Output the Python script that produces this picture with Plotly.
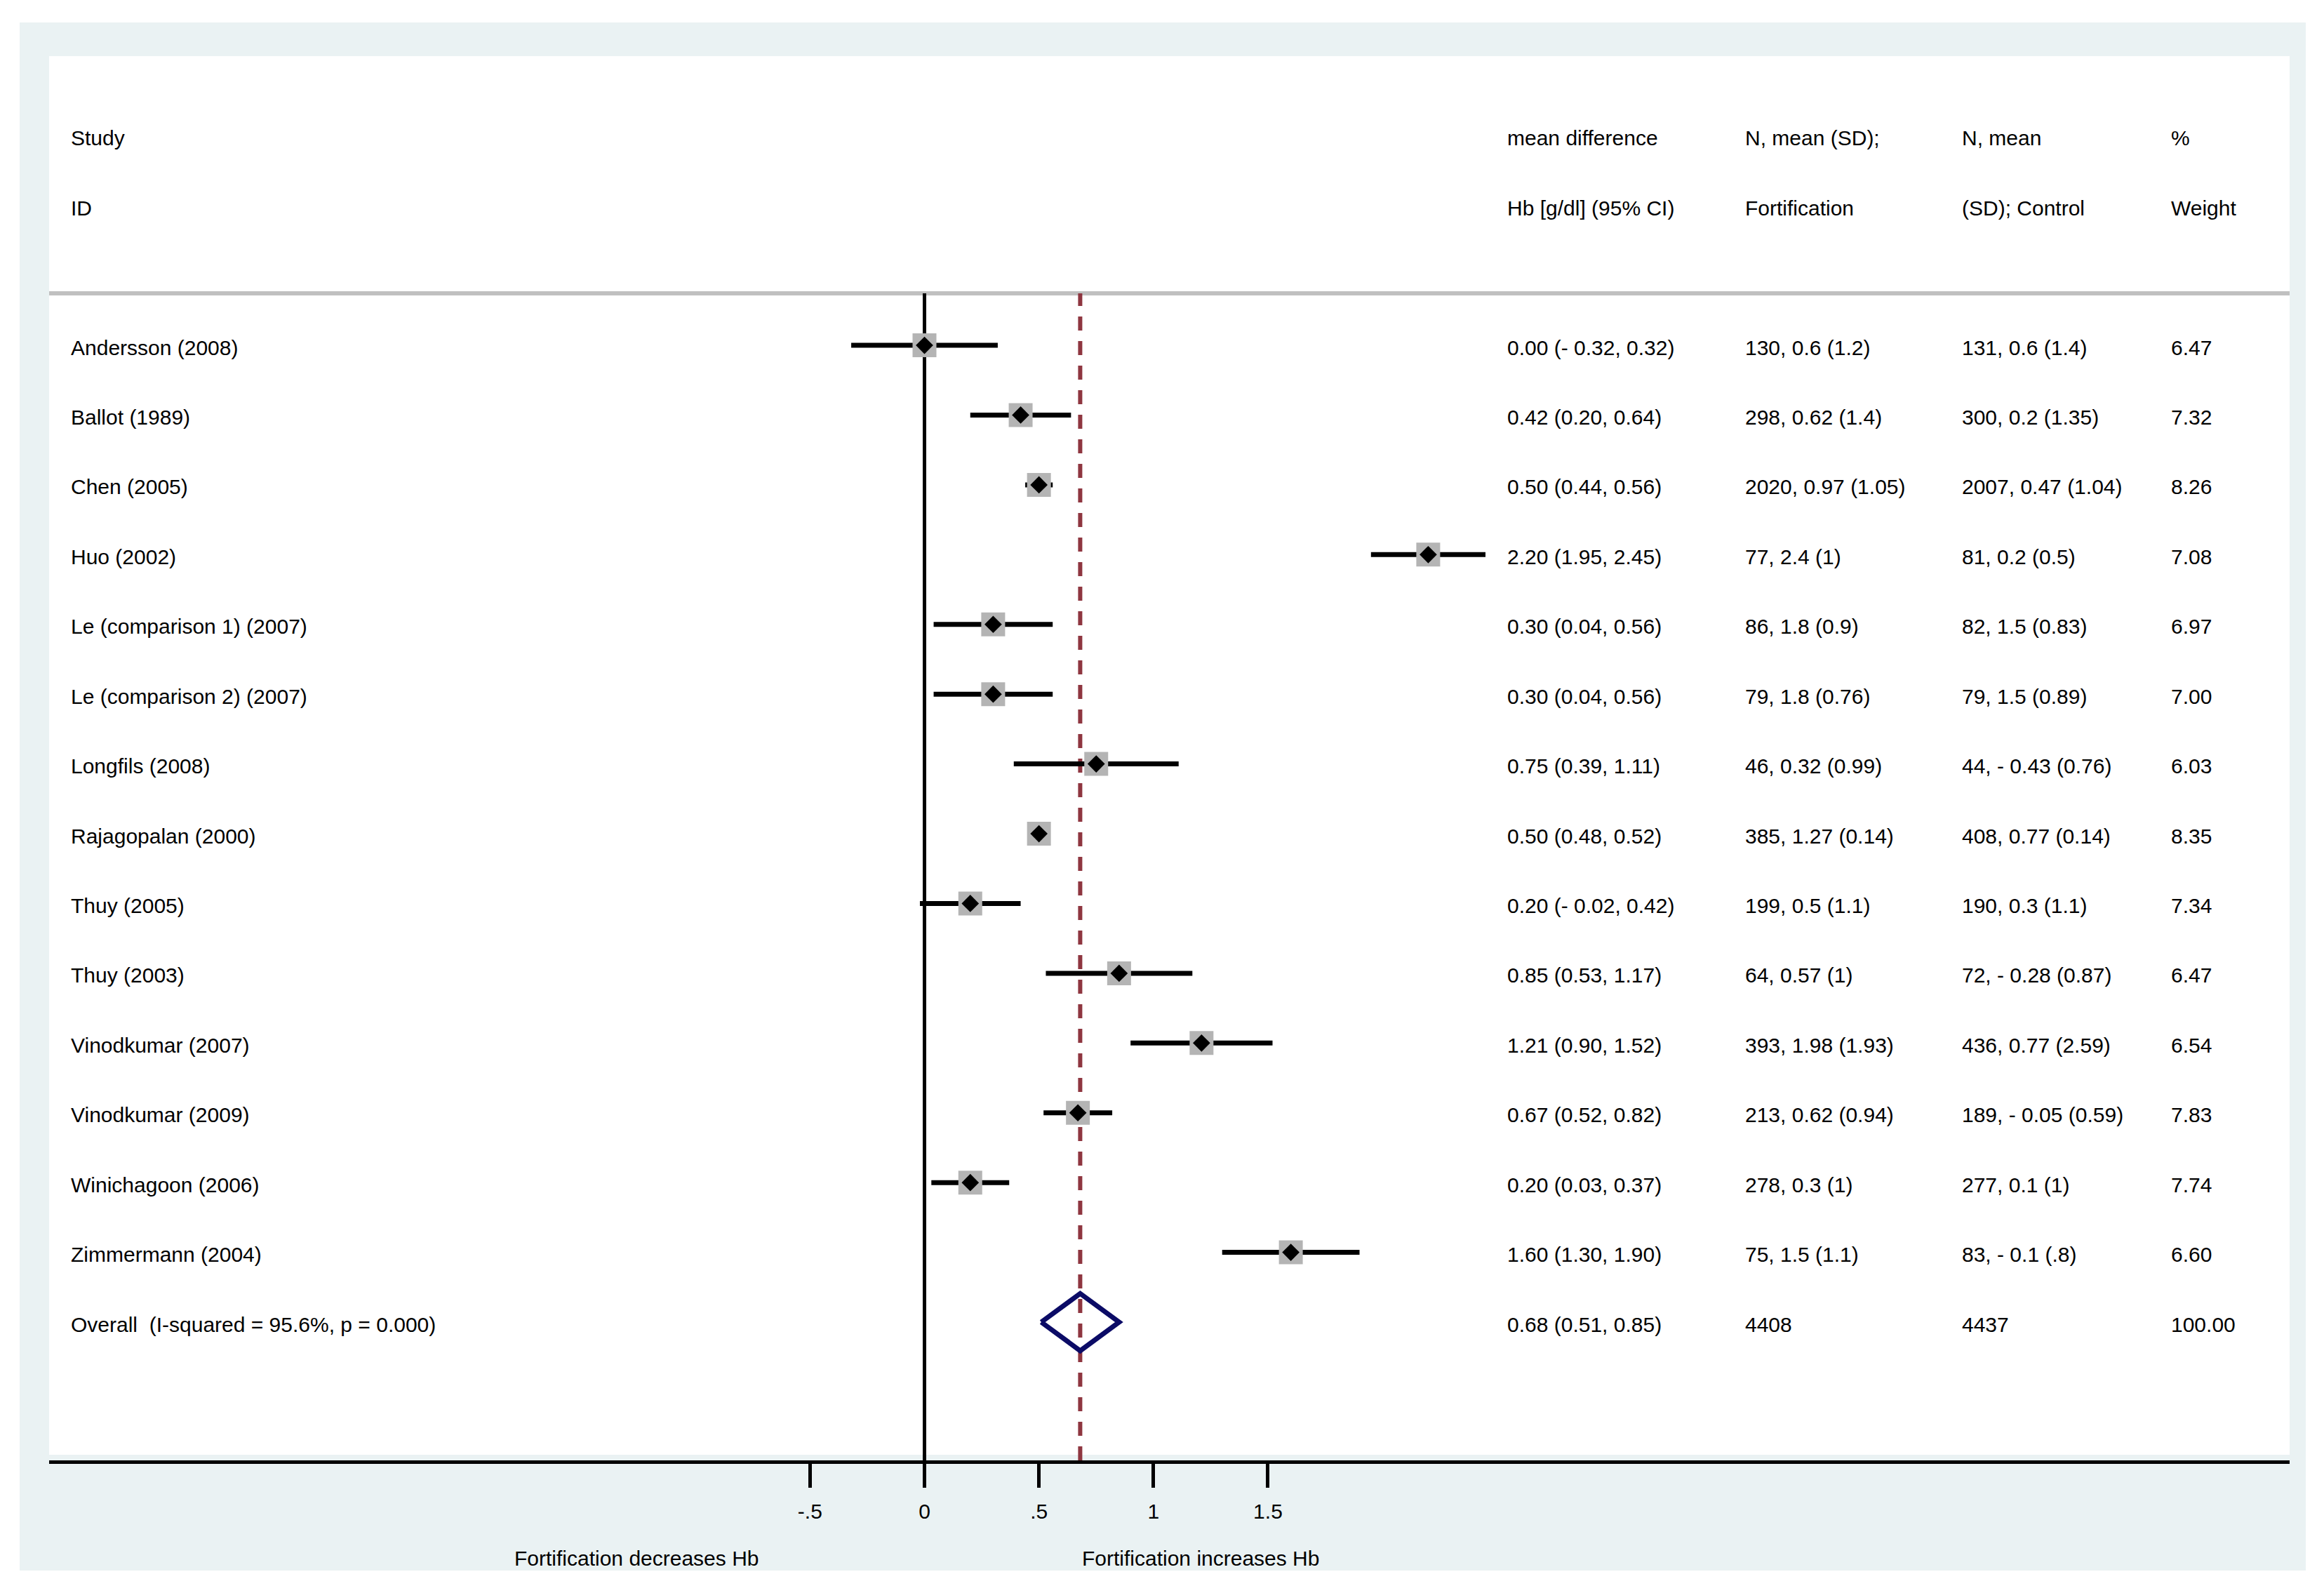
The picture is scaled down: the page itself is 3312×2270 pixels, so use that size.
import plotly.graph_objects as go

# study rows, top to bottom
studies = [
    "Andersson (2008)", "Ballot (1989)", "Chen (2005)", "Huo (2002)",
    "Le (comparison 1) (2007)", "Le (comparison 2) (2007)", "Longfils (2008)",
    "Rajagopalan (2000)", "Thuy (2005)", "Thuy (2003)", "Vinodkumar (2007)",
    "Vinodkumar (2009)", "Winichagoon (2006)", "Zimmermann (2004)",
]
md = [0.00, 0.42, 0.50, 2.20, 0.30, 0.30, 0.75, 0.50, 0.20, 0.85, 1.21, 0.67, 0.20, 1.60]
ci_lo = [-0.32, 0.20, 0.44, 1.95, 0.04, 0.04, 0.39, 0.48, -0.02, 0.53, 0.90, 0.52, 0.03, 1.30]
ci_hi = [0.32, 0.64, 0.56, 2.45, 0.56, 0.56, 1.11, 0.52, 0.42, 1.17, 1.52, 0.82, 0.37, 1.90]
fortified = [
    "130, 0.6 (1.2)", "298, 0.62 (1.4)", "2020, 0.97 (1.05)", "77, 2.4 (1)",
    "86, 1.8 (0.9)", "79, 1.8 (0.76)", "46, 0.32 (0.99)", "385, 1.27 (0.14)",
    "199, 0.5 (1.1)", "64, 0.57 (1)", "393, 1.98 (1.93)", "213, 0.62 (0.94)",
    "278, 0.3 (1)", "75, 1.5 (1.1)",
]
control = [
    "131, 0.6 (1.4)", "300, 0.2 (1.35)", "2007, 0.47 (1.04)", "81, 0.2 (0.5)",
    "82, 1.5 (0.83)", "79, 1.5 (0.89)", "44, - 0.43 (0.76)", "408, 0.77 (0.14)",
    "190, 0.3 (1.1)", "72, - 0.28 (0.87)", "436, 0.77 (2.59)", "189, - 0.05 (0.59)",
    "277, 0.1 (1)", "83, - 0.1 (.8)",
]
weights = [6.47, 7.32, 8.26, 7.08, 6.97, 7.00, 6.03, 8.35, 7.34, 6.47, 6.54, 7.83, 7.74, 6.60]

overall_label = "Overall  (I-squared = 95.6%, p = 0.000)"
overall_md, overall_lo, overall_hi = 0.68, 0.51, 0.85
overall_fort, overall_ctrl, overall_weight = "4408", "4437", 100.00

header1 = ["Study", "mean difference", "N, mean (SD);", "N, mean", "%"]
header2 = ["ID", "Hb [g/dl] (95% CI)", "Fortification", "(SD); Control", "Weight"]

tick_vals = [-0.5, 0, 0.5, 1, 1.5]
tick_text = ["-.5", "0", ".5", "1", "1.5"]

FONT = "Liberation Sans, Arial, sans-serif"
FS = 30
BG = "#EAF2F3"


def fmt(v):
    return ("- %.2f" % -v) if v < 0 else "%.2f" % v


def ci_text(m, lo, hi):
    return "%s (%s, %s)" % (fmt(m), fmt(lo), fmt(hi))


rows = list(range(len(studies)))
overall_row = len(studies)

fig = go.Figure()

# confidence interval bars
xs, ys = [], []
for r, lo, hi in zip(rows, ci_lo, ci_hi):
    xs += [lo, hi, None]
    ys += [r, r, None]
fig.add_trace(go.Scatter(x=xs, y=ys, mode="lines",
                         line=dict(color="black", width=7), hoverinfo="skip"))

# weight boxes + point estimates
fig.add_trace(go.Scatter(x=md, y=rows, mode="markers",
                         marker=dict(symbol="square", size=34, color="#B4B4B4",
                                     line=dict(width=0))))
fig.add_trace(go.Scatter(x=md, y=rows, mode="markers",
                         marker=dict(symbol="diamond", size=19, color="black",
                                     line=dict(width=0))))

# pooled diamond
h = 0.41
fig.add_trace(go.Scatter(
    x=[overall_lo, overall_md, overall_hi, overall_md, overall_lo],
    y=[overall_row, overall_row - h, overall_row, overall_row + h, overall_row],
    mode="lines", line=dict(color="#0B0B66", width=7)))

# text columns
col_x = [0.0103, 0.6514, 0.7576, 0.8544, 0.9478]
ann = []


def put(x, y, text):
    ann.append(dict(x=x, y=y, xref="paper", yref="y", text=text, showarrow=False,
                    xanchor="left", yanchor="middle", xshift=-4, yshift=-3,
                    font=dict(family=FONT, size=FS, color="black")))


for cx, t1, t2 in zip(col_x, header1, header2):
    put(cx, -3, t1)
    put(cx, -2, t2)

for r in rows:
    put(col_x[0], r, studies[r])
    put(col_x[1], r, ci_text(md[r], ci_lo[r], ci_hi[r]))
    put(col_x[2], r, fortified[r])
    put(col_x[3], r, control[r])
    put(col_x[4], r, "%.2f" % weights[r])

put(col_x[0], overall_row, overall_label)
put(col_x[1], overall_row, ci_text(overall_md, overall_lo, overall_hi))
put(col_x[2], overall_row, overall_fort)
put(col_x[3], overall_row, overall_ctrl)
put(col_x[4], overall_row, "%.2f" % overall_weight)

for x, t in [(0.2624, "Fortification decreases Hb"), (0.5139, "Fortification increases Hb")]:
    ann.append(dict(x=x, y=-0.0695, xref="paper", yref="paper", text=t, showarrow=False,
                    xanchor="center", yanchor="middle",
                    font=dict(family=FONT, size=FS, color="black")))

sep_y = 0.8311
shapes = [
    dict(type="rect", xref="paper", yref="paper", x0=-0.01315, x1=1.0072,
         y0=-0.0785, y1=1.024, fillcolor=BG, line=dict(width=0), layer="below"),
    dict(type="rect", xref="paper", yref="paper", x0=0, x1=1, y0=0.004, y1=1,
         fillcolor="white", line=dict(width=0), layer="below"),
    dict(type="line", xref="paper", yref="paper", x0=0, x1=1, y0=sep_y, y1=sep_y,
         line=dict(color="#C0C0C0", width=6), layer="below"),
    dict(type="line", xref="x", yref="paper", x0=0, x1=0, y0=0, y1=sep_y,
         line=dict(color="black", width=5), layer="below"),
    dict(type="line", xref="x", yref="paper", x0=overall_md, x1=overall_md, y0=0, y1=sep_y,
         line=dict(color="#8E3640", width=6, dash="20px,15px"), layer="below"),
]

# the page body has an 8px margin, so the figure is sized to fit inside it
fig.update_layout(
    width=3296, height=2254,
    margin=dict(l=62, r=41, t=72, b=181, pad=0),
    paper_bgcolor="white", plot_bgcolor="rgba(0,0,0,0)",
    showlegend=False,
    annotations=ann, shapes=shapes,
    font=dict(family=FONT, size=FS, color="black"),
    xaxis=dict(range=[-3.823, 5.962], showgrid=False, zeroline=False,
               showline=True, linecolor="black", linewidth=5,
               ticks="outside", ticklen=34, tickwidth=5, tickcolor="black",
               ticklabelstandoff=8,
               tickvals=tick_vals, ticktext=tick_text,
               tickfont=dict(family=FONT, size=FS, color="black")),
    yaxis=dict(range=[15.981, -4.144], visible=False, showgrid=False, zeroline=False),
)

fig.write_html("out.html")
